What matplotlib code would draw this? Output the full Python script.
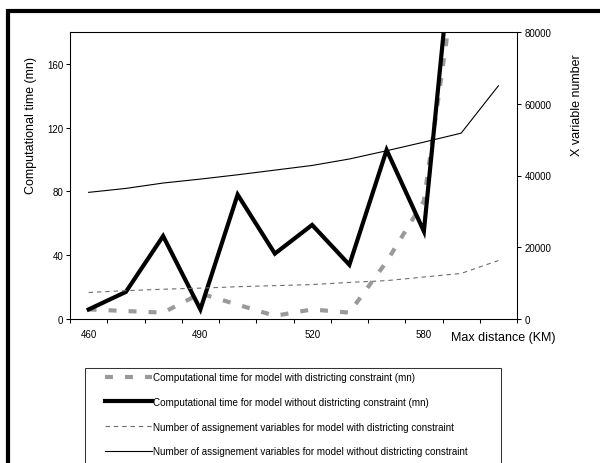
import numpy as np
import matplotlib
matplotlib.use("Agg")
import matplotlib.pyplot as plt
from matplotlib.patches import Rectangle

plt.rcParams['font.family'] = ['Liberation Sans', 'DejaVu Sans']

# ---- data ----
x_labels = ['460', '', '', '490', '', '', '520', '', '', '580', '', '']
time_with = [6, 5, 4, 16, 9, 2, 6, 4, 36, 74, 240, np.nan]          # left axis (mn)
time_without = [6, 17, 52, 6, 78, 41, 59, 34, 106, 55, 290, np.nan]  # left axis (mn)
vars_with = [7400, 7900, 8300, 8600, 9000, 9300, 9600, 10200, 10700, 11700, 12700, 16300]
vars_without = [35300, 36400, 37900, 39000, 40200, 41500, 42800, 44600, 46900, 49300, 51800, 65000]
left_ticks = [0, 40, 80, 120, 160]
right_ticks = [0, 20000, 40000, 60000, 80000]
legend_labels = [
    'Computational time for model with districting constraint (mn)',
    'Computational time for model without districting constraint (mn)',
    'Number of assignement variables for model with districting constraint',
    'Number of assignement variables for model without districting constraint',
]

W, H = 600, 464
fig = plt.figure(figsize=(W / 100, H / 100), dpi=100)
fig.patch.set_facecolor('white')

ax = fig.add_axes([70 / W, (H - 320) / H, 447 / W, 287 / H])
ax2 = ax.twinx()

x = np.arange(len(x_labels))
l1, = ax.plot(x, time_with, color='#9a9a9a', lw=3, dashes=(1.9, 2.9), dash_capstyle='butt')
l2, = ax.plot(x, time_without, color='black', lw=3, solid_joinstyle='miter')
l3, = ax2.plot(x, vars_with, color='#6e6e6e', lw=0.8, dashes=(4, 3.5))
l4, = ax2.plot(x, vars_without, color='black', lw=0.8)

ax.set_xlim(-0.5, len(x_labels) - 0.5)
ax.set_ylim(0, 180)
ax2.set_ylim(0, 80000)
ax.set_yticks(left_ticks)
ax2.set_yticks(right_ticks)

ax.set_xticks(np.arange(-0.5, len(x_labels), 1))
ax.set_xticklabels([])
ax.set_xticks(x, minor=True)
ax.set_xticklabels(x_labels, minor=True)

tick_font = 7
ax.tick_params(axis='x', which='major', length=2.7, width=0.75, direction='out')
ax.tick_params(axis='x', which='minor', length=0, pad=7, labelsize=tick_font)
ax.tick_params(axis='y', length=2.7, width=0.75, direction='out', pad=2, labelsize=tick_font)
ax2.tick_params(axis='y', length=2.7, width=0.75, direction='out', pad=3, labelsize=tick_font)

for a in (ax, ax2):
    for s in a.spines.values():
        s.set_linewidth(0.75)
        s.set_color('black')

ax.set_ylabel('Computational time (mn)', fontsize=9)
ax.yaxis.set_label_coords((31 - 70) / 447, (320 - 125) / 287)
ax.yaxis.label.set_va('center')
ax2.set_ylabel('X variable number', fontsize=9)
ax2.yaxis.set_label_coords((577 - 70) / 447, (320 - 105) / 287)
ax2.yaxis.label.set_va('center')
ax.set_xlabel('Max distance (KM)', fontsize=9)
ax.xaxis.set_label_coords((451 - 70) / 447, -(338 - 320) / 287)
ax.xaxis.label.set_ha('left')
ax.xaxis.label.set_va('center')

# outer frame (right/bottom edges lie outside the canvas)
fig.add_artist(Rectangle((8 / W, -0.2), 1.2, 1 - 12 / H + 0.2, transform=fig.transFigure,
                         fill=False, lw=3, edgecolor='black', clip_on=False))
# legend frame (bottom edge outside the canvas)
fig.add_artist(Rectangle((85 / W, -0.2), (501 - 85) / W, (H - 369) / H + 0.2,
                         transform=fig.transFigure, fill=False, lw=0.75,
                         edgecolor='#333333', clip_on=False))

fig.legend([l1, l2, l3, l4], legend_labels, loc='upper left',
           bbox_to_anchor=(105 / W, 1 - 373 / H), frameon=False,
           fontsize=7.1, handlelength=4.8, handletextpad=0.1,
           labelspacing=1.5, borderpad=0, borderaxespad=0)

fig.savefig('out.png', dpi=100)
